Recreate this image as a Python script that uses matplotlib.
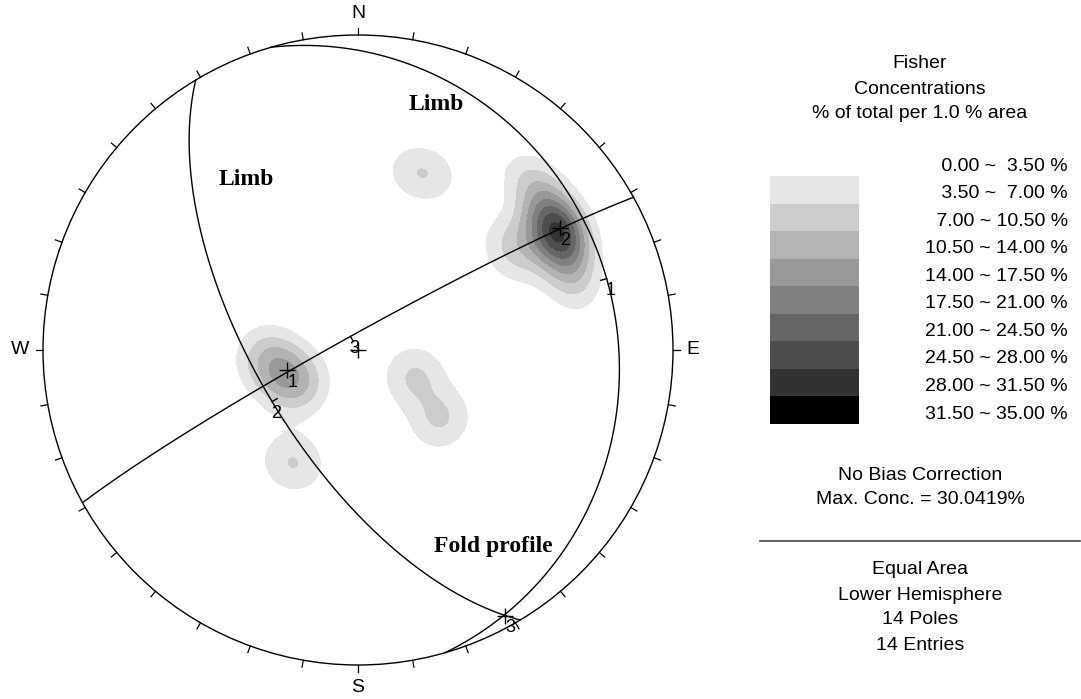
import numpy as np
import matplotlib.pyplot as plt
from matplotlib.patches import Circle
from matplotlib.lines import Line2D
import matplotlib.transforms as mtransforms

plt.rcParams['font.family'] = ['Liberation Sans', 'DejaVu Sans']

# Полюса (азимут, угол погружения), град.
pole_trend = [58, 61, 60, 58, 47, 57, 71, 266, 240, 252, 20, 210, 115, 130]
pole_plunge = [27, 27, 30, 25, 24, 41, 29, 66, 72, 70, 40, 56, 74, 62]

# Плоскости: азимут падения / угол падения
plane_names = ['1', '2', '3']
plane_dipdir = [74, 239, 331]
plane_dip = [19, 64, 86]

# Шкала концентраций
levels = [0.0, 3.5, 7.0, 10.5, 14.0, 17.5, 21.0, 24.5, 28.0, 31.5, 35.0]
level_grey = ['#e6e6e6', '#cccccc', '#b3b3b3', '#999999', '#808080',
              '#666666', '#4d4d4d', '#333333', '#000000']
fisher_k = 100.0
max_conc = 30.0419

# Подписи на сетке
text_labels = ['Limb', 'Limb', 'Fold profile']
text_x = [0.250, -0.355, 0.430]
text_y = [0.780, 0.540, -0.625]


def line_vec(trend, plunge):
    t, p = np.radians(trend), np.radians(plunge)
    return np.array([np.cos(p) * np.sin(t), np.cos(p) * np.cos(t), -np.sin(p)])


def project(v):
    # равноплощадная проекция, нижняя полусфера, радиус круга = 1
    x, y, z = v
    s = 1.0 / np.sqrt(1.0 - z)
    return x * s, y * s


W, H = 1081, 699
fig = plt.figure(figsize=(W / 100, H / 100), dpi=100)

# Оси сетки: центр (358, 350) px, радиус 315 px
cx, cy, R, half = 358, 350, 315, 340
ax = fig.add_axes([(cx - half) / W, (H - cy - half) / H, 2 * half / W, 2 * half / H])
lim = half / R
ax.set_xlim(-lim, lim)
ax.set_ylim(-lim, lim)
ax.axis('off')

# Плотность Фишера
g = np.linspace(-1, 1, 500)
X, Y = np.meshgrid(g, g)
r2 = X ** 2 + Y ** 2
inside = r2 <= 1
Z = np.where(inside, r2 - 1, 0)
sc = np.sqrt(np.clip(2 - r2, 0, None))
V = np.stack([X * sc, Y * sc, Z])
poles = np.array([line_vec(t, p) for t, p in zip(pole_trend, pole_plunge)])
cosang = np.abs(np.einsum('ij,jkl->ikl', poles, V))
pdf = fisher_k / (2 * np.pi) * np.exp(fisher_k * (cosang - 1))
area = 0.01 * 2 * np.pi
dens = 100 * area * pdf.sum(axis=0) / len(poles)
dens = np.ma.masked_where(~inside, dens)

cf = ax.contourf(X, Y, dens, levels=levels[1:], colors=level_grey, antialiased=False)
prim = Circle((0, 0), 1, fill=False, lw=1, color='k', zorder=3)
ax.add_patch(prim)
cf.set_clip_path(Circle((0, 0), 1, transform=ax.transData))

# Засечки по кругу через 10 град.
for az in range(0, 360, 10):
    a = np.radians(az)
    ax.plot([np.sin(a), (1 + 7 / R) * np.sin(a)], [np.cos(a), (1 + 7 / R) * np.cos(a)],
            color='k', lw=0.9)

# Стороны света
for lab, x, y in [('N', 0, 1.067), ('E', 1.063, 0), ('S', 0, -1.073), ('W', -1.073, 0)]:
    ax.text(x, y, lab, ha='center', va='center', fontsize=14)

# Центр
ax.plot(0, 0, '+', ms=11, mew=1, color='k')

# Плоскости, их полюса и подписи
phi = np.linspace(0, np.pi, 721)
for name, dd, dip in zip(plane_names, plane_dipdir, plane_dip):
    s_vec = line_vec(dd - 90, 0)
    d_vec = line_vec(dd, dip)
    gc = np.cos(phi)[None, :] * s_vec[:, None] + np.sin(phi)[None, :] * d_vec[:, None]
    gx, gy = project(gc)
    ax.plot(gx, gy, color='k', lw=1)

    px, py = project(line_vec(dd + 180, 90 - dip))
    ax.plot(px, py, '+', ms=11, mew=1, color='k')
    ax.annotate(name, (px, py), xytext=(5, -12), textcoords='offset pixels',
                ha='center', va='center', fontsize=13)

    qx, qy = project(d_vec)
    rr = np.hypot(qx, qy)
    ax.plot([qx, qx - 6 / R * qx / rr], [qy, qy - 6 / R * qy / rr], color='k', lw=1)
    ax.annotate(name, (qx, qy), xytext=(4, -12), textcoords='offset pixels',
                ha='center', va='center', fontsize=13)

for lab, x, y in zip(text_labels, text_x, text_y):
    ax.text(x, y, lab, ha='center', va='center', fontsize=17, fontweight='bold',
            family='Liberation Serif')

# Легенда
xc = 920 / W
for txt, yp in [('Fisher', 64), ('Concentrations', 89), ('% of total per 1.0 % area', 114)]:
    fig.text(xc, 1 - yp / H, txt, ha='center', va='center', fontsize=14)

ax_leg = fig.add_axes([770 / W, (H - 424) / H, 89 / W, 248 / H])
nb = len(level_grey)
ax_leg.barh(np.arange(nb), 1, height=1, color=level_grey)
ax_leg.set_xlim(0, 1)
ax_leg.set_ylim(nb - 0.5, -0.5)
ax_leg.axis('off')

tr = mtransforms.blended_transform_factory(fig.transFigure, ax_leg.transData)
for i in range(len(levels) - 1):
    lab = f'{levels[i]:5.2f} ~ {levels[i + 1]:5.2f} %'
    fig.text(1068 / W, i - 1 + 0.14, lab, ha='right', va='center', fontsize=14, transform=tr)

fig.text(xc, 1 - 475 / H, 'No Bias Correction', ha='center', va='center', fontsize=14)
fig.text(xc, 1 - 500 / H, f'Max. Conc. = {max_conc:.4f}%', ha='center', va='center', fontsize=14)
fig.add_artist(Line2D([760 / W, 1080 / W], [1 - 541 / H] * 2, color='#444444', lw=1.2))
for txt, yp in [('Equal Area', 570), ('Lower Hemisphere', 595),
                (f'{len(pole_trend)} Poles', 620), (f'{len(pole_trend)} Entries', 645)]:
    fig.text(xc, 1 - yp / H, txt, ha='center', va='center', fontsize=14)

fig.savefig('out.png', dpi=100)
